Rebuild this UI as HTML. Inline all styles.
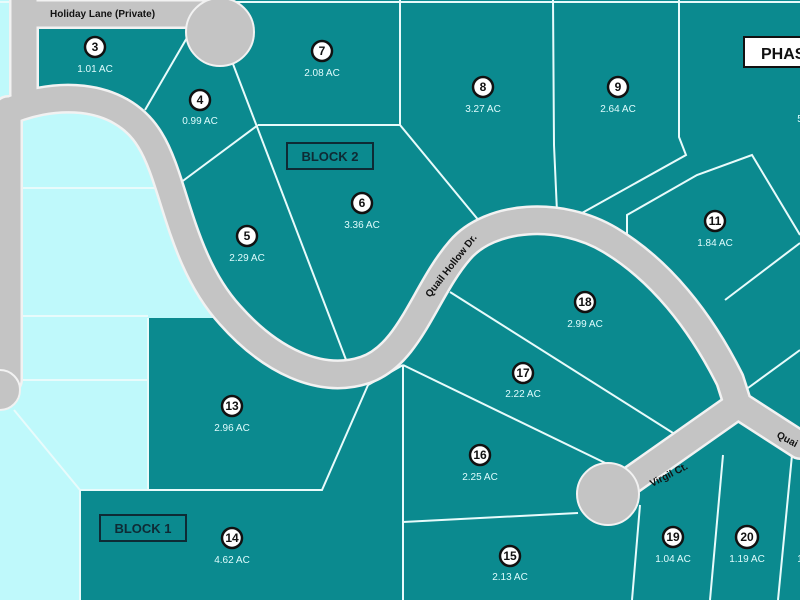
<!DOCTYPE html>
<html><head><meta charset="utf-8"><style>html,body{margin:0;padding:0;background:#0b8a8f}svg{display:block}</style></head>
<body>
<svg width="800" height="600" viewBox="0 0 800 600" xmlns="http://www.w3.org/2000/svg" font-family="Liberation Sans, sans-serif">
<rect width="800" height="600" fill="#0b8a8f"/>
<!-- light cyan area -->
<path d="M0,0 L14,0 L14,95 L0,110 Z" fill="#bff9fb"/>
<path d="M0,112 L80,99 L128,116 L150,140 L166,176 L180,222 L200,270 L230,315 L230,318 L148,318 L148,490 L80,490 L80,600 L0,600 Z" fill="#bff9fb"/>
<g stroke="#e8fbfb" stroke-width="2" fill="none">
<line x1="15" y1="188" x2="170" y2="188"/>
<line x1="0" y1="316" x2="148" y2="316"/>
<line x1="15" y1="380" x2="148" y2="380"/>
<line x1="14" y1="410" x2="80" y2="490"/>
<polyline points="148,318 148,490 322,490 368,385"/>
<polyline points="80,600 80,490 148,490"/>
<line x1="188" y1="36" x2="145" y2="110"/>
<line x1="233" y1="64" x2="348" y2="365"/>
<polyline points="258,125 400,125 480,222"/>
<line x1="258" y1="125" x2="176" y2="186"/>
<line x1="400" y1="0" x2="400" y2="125"/>
<polyline points="553,0 554,145 557,212"/>
<polyline points="679,0 679,137 686,155 582,213"/>
<polyline points="627,240 627,215 697,175 752,155 800,235"/>
<line x1="800" y1="243" x2="725" y2="300"/>
<line x1="748" y1="388" x2="800" y2="350"/>
<line x1="450" y1="292" x2="692" y2="445"/>
<line x1="403" y1="365" x2="628" y2="474"/>
<line x1="403" y1="522" x2="578" y2="513"/>
<line x1="403" y1="365" x2="403" y2="600"/>
<line x1="368" y1="385" x2="403" y2="365"/>
<line x1="640" y1="505" x2="632" y2="600"/>
<line x1="723" y1="455" x2="710" y2="600"/>
<line x1="792" y1="455" x2="778" y2="600"/>
<line x1="0" y1="2" x2="800" y2="2"/>
</g>
<!-- roads -->
<g fill="none" stroke-linecap="round" stroke-linejoin="round">
<g stroke="#f2f2f2" stroke-width="30">
<path d="M24,0 L24,95"/>
<path d="M24,14 L215,14"/>
<path d="M8,110 L8,380"/>
<path d="M0,115 C50,90 120,90 150,140 C175,180 180,260 230,315 C270,360 320,385 365,370 C410,355 425,290 460,250 C490,215 560,210 610,240 C660,270 700,320 730,380 L738,405 L800,445"/>
<path d="M738,405 L610,495"/>
</g>
<g stroke="#c4c4c4" stroke-width="25">
<path d="M24,0 L24,95"/>
<path d="M24,14 L215,14"/>
<path d="M8,110 L8,380"/>
<path d="M0,115 C50,90 120,90 150,140 C175,180 180,260 230,315 C270,360 320,385 365,370 C410,355 425,290 460,250 C490,215 560,210 610,240 C660,270 700,320 730,380 L738,405 L800,445"/>
<path d="M738,405 L610,495"/>
</g>
</g>
<circle cx="220" cy="32" r="34" fill="#c4c4c4" stroke="#f2f2f2" stroke-width="2"/>
<circle cx="608" cy="494" r="31" fill="#c4c4c4" stroke="#f2f2f2" stroke-width="2"/>
<circle cx="0" cy="390" r="20" fill="#c4c4c4" stroke="#f2f2f2" stroke-width="2"/>
<!-- road labels -->
<g font-size="10" font-weight="bold" fill="#111">
<text x="50" y="17">Holiday Lane (Private)</text>
<text transform="translate(430,298) rotate(-52)">Quail Hollow Dr.</text>
<text transform="translate(652,487) rotate(-27)">Virgil Ct.</text>
<text transform="translate(776,437) rotate(28)">Quai</text>
</g>
<!-- block boxes -->
<g fill="none" stroke="#0e2b35" stroke-width="2"><rect x="287" y="143" width="86" height="26"/><rect x="100" y="515" width="86" height="26"/></g>
<g font-size="13" font-weight="bold" fill="#0e2b35" text-anchor="middle"><text x="330" y="161">BLOCK 2</text><text x="143" y="533">BLOCK 1</text></g>
<rect x="744" y="37" width="60" height="30" fill="#fff" stroke="#111" stroke-width="2"/>
<text x="761" y="59" font-size="16" font-weight="bold" fill="#111">PHASE</text>
<!-- lot labels -->
<g font-size="10" fill="#dffcfd" text-anchor="middle">
<text x="95" y="72">1.01 AC</text><text x="200" y="124">0.99 AC</text><text x="322" y="76">2.08 AC</text>
<text x="483" y="112">3.27 AC</text><text x="618" y="112">2.64 AC</text><text x="715" y="246">1.84 AC</text>
<text x="247" y="261">2.29 AC</text><text x="362" y="228">3.36 AC</text><text x="585" y="327">2.99 AC</text>
<text x="523" y="397">2.22 AC</text><text x="480" y="480">2.25 AC</text><text x="232" y="431">2.96 AC</text>
<text x="232" y="563">4.62 AC</text><text x="510" y="580">2.13 AC</text><text x="673" y="562">1.04 AC</text>
<text x="747" y="562">1.19 AC</text><text x="800" y="122">5</text><text x="800" y="562">1</text>
</g>
<g fill="#fff" stroke="#111" stroke-width="2.5">
<circle cx="95" cy="47" r="10"/><circle cx="200" cy="100" r="10"/><circle cx="322" cy="51" r="10"/>
<circle cx="483" cy="87" r="10"/><circle cx="618" cy="87" r="10"/><circle cx="715" cy="221" r="10"/>
<circle cx="247" cy="236" r="10"/><circle cx="362" cy="203" r="10"/><circle cx="585" cy="302" r="10"/>
<circle cx="523" cy="373" r="10"/><circle cx="480" cy="455" r="10"/><circle cx="232" cy="406" r="10"/>
<circle cx="232" cy="538" r="10"/><circle cx="510" cy="556" r="10"/><circle cx="673" cy="537" r="10"/>
<circle cx="747" cy="537" r="11"/>
</g>
<g font-size="12" font-weight="bold" fill="#111" text-anchor="middle">
<text x="95" y="51">3</text><text x="200" y="104">4</text><text x="322" y="55">7</text>
<text x="483" y="91">8</text><text x="618" y="91">9</text><text x="715" y="225">11</text>
<text x="247" y="240">5</text><text x="362" y="207">6</text><text x="585" y="306">18</text>
<text x="523" y="377">17</text><text x="480" y="459">16</text><text x="232" y="410">13</text>
<text x="232" y="542">14</text><text x="510" y="560">15</text><text x="673" y="541">19</text>
<text x="747" y="541">20</text>
</g>
</svg>
</body></html>
